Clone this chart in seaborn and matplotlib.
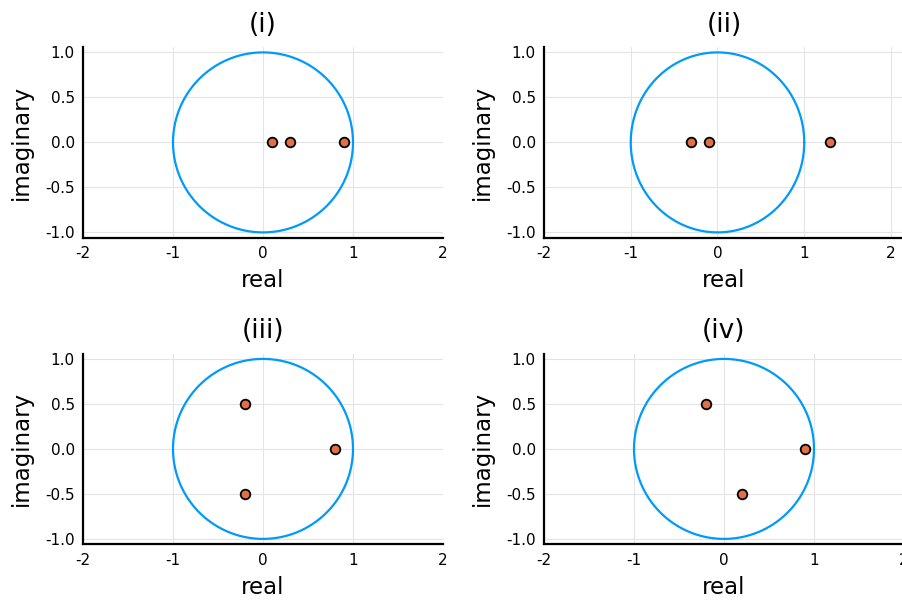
import numpy as np
import pandas as pd
import matplotlib
matplotlib.use("Agg")
import matplotlib.pyplot as plt
import seaborn as sns

# poles of the four systems (real, imaginary)
titres = ["(i)", "(ii)", "(iii)", "(iv)"]
reel_i = [0.1, 0.3, 0.9]
imag_i = [0.0, 0.0, 0.0]
reel_ii = [-0.3, -0.1, 1.3]
imag_ii = [0.0, 0.0, 0.0]
reel_iii = [0.8, -0.2, -0.2]
imag_iii = [0.0, 0.5, -0.5]
reel_iv = [0.9, -0.2, 0.2]
imag_iv = [0.0, 0.5, -0.5]
xticks = [-2, -1, 0, 1, 2]
yticks = [-1.0, -0.5, 0.0, 0.5, 1.0]

BLEU = "#009AFA"
ORANGE = "#E26F46"

sns.set_theme(style="white")
plt.rcParams['font.family'] = ['DejaVu Sans']
plt.rcParams['text.color'] = 'black'
plt.rcParams['axes.labelcolor'] = 'black'

W, H = 903, 601
fig = plt.figure(figsize=(W / 100, H / 100), dpi=100)

# unit circle
theta = np.linspace(0, 2 * np.pi, 400)
cercle = pd.DataFrame({"x": np.cos(theta), "y": np.sin(theta)})

poles = [(reel_i, imag_i), (reel_ii, imag_ii), (reel_iii, imag_iii), (reel_iv, imag_iv)]
# axes boxes in pixels: left, top of spine box
boites = [(83, 47), (544, 47), (83, 353.5), (544, 353.5)]
xlims = [(-2, 2), (-1.85, 2.15), (-2, 2), (-2, 2)]

for k in range(4):
    gauche, haut = boites[k]
    ax = fig.add_axes([gauche / W, (H - haut - 190.8) / H, 360 / W, 190.8 / H])
    sns.lineplot(data=cercle, x="x", y="y", sort=False, estimator=None,
                 color=BLEU, linewidth=1.6, ax=ax, zorder=2)
    df = pd.DataFrame({"re": poles[k][0], "im": poles[k][1]})
    sns.scatterplot(data=df, x="re", y="im", color=ORANGE, edgecolor="black",
                    linewidth=1.3, s=48, ax=ax, zorder=3)
    ax.set_xlim(*xlims[k])
    ax.set_ylim(-1.06, 1.06)
    ax.set_xticks(xticks)
    ax.set_xticklabels([str(t) for t in xticks])
    ax.set_yticks(yticks)
    ax.set_yticklabels([f"{t:.1f}" for t in yticks])
    ax.grid(True, color="#e4e4e4", linewidth=0.8, zorder=0)
    ax.set_axisbelow(True)
    for c in ["top", "right"]:
        ax.spines[c].set_visible(False)
    for c in ["left", "bottom"]:
        ax.spines[c].set_color("black")
        ax.spines[c].set_linewidth(1.6)
    ax.tick_params(direction="in", length=4.5, width=1, colors="black",
                   labelsize=11, pad=6)
    ax.set_xlabel("real", fontsize=16.5, labelpad=6)
    ax.set_ylabel("imaginary", fontsize=16.5, labelpad=9)
    ax.set_title(titres[k], fontsize=19, pad=11)

fig.savefig("out.png", dpi=100)
